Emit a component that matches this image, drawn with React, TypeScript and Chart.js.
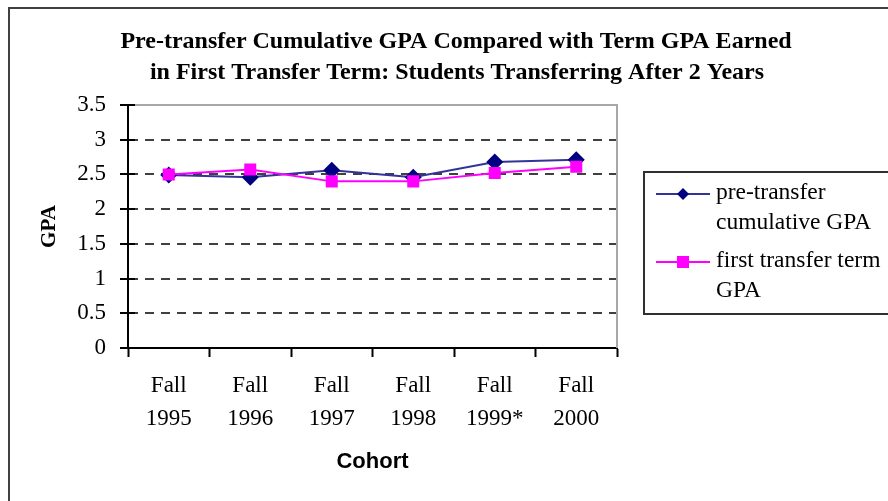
import React, { useEffect, useRef } from "react";
import { Chart, registerables } from "chart.js";

Chart.register(...registerables);

const categories: string[][] = [
  ["Fall", "1995"],
  ["Fall", "1996"],
  ["Fall", "1997"],
  ["Fall", "1998"],
  ["Fall", "1999*"],
  ["Fall", "2000"],
];
const preTransferGPA = [2.49, 2.46, 2.56, 2.46, 2.68, 2.71];
const firstTermGPA = [2.5, 2.57, 2.4, 2.4, 2.52, 2.61];
const seriesNames = ["pre-transfer cumulative GPA", "first transfer term GPA"];
const legendLines = [
  ["pre-transfer", "cumulative GPA"],
  ["first transfer term", "GPA"],
];
const titleLines = [
  "Pre-transfer Cumulative GPA Compared with Term GPA Earned",
  "in First Transfer Term: Students Transferring After 2 Years",
];
const yMin = 0;
const yMax = 3.5;
const yStep = 0.5;
const xTitle = "Cohort";
const yTitle = "GPA";

const SERIF = "'Liberation Serif', 'Times New Roman', serif";
const SANS = "'Liberation Sans', Arial, sans-serif";
const BLUE_LINE = "#333399";
const BLUE = "#000080";
const PINK = "#ff00ff";

export default function App() {
  const ref = useRef<HTMLCanvasElement>(null);
  useEffect(() => {
    const canvas = ref.current!;
    const decor = {
      id: "decor",
      beforeDraw(chart: any) {
        const ctx = chart.ctx;
        ctx.save();
        ctx.fillStyle = "#fff";
        ctx.fillRect(0, 0, chart.width, chart.height);
        ctx.strokeStyle = "#404040";
        ctx.lineWidth = 2;
        ctx.strokeRect(9, 8, 920, 540);
        ctx.restore();
      },
      beforeDatasetsDraw(chart: any) {
        const { ctx, chartArea: a } = chart;
        ctx.save();
        ctx.strokeStyle = "#a8a8a8";
        ctx.lineWidth = 2;
        ctx.beginPath();
        ctx.moveTo(a.left, a.top);
        ctx.lineTo(a.right, a.top);
        ctx.lineTo(a.right, a.bottom);
        ctx.stroke();
        // inner half of the crossing y-axis tick marks
        const ys = chart.scales.y;
        ctx.strokeStyle = "#000";
        ctx.lineWidth = 2;
        ctx.beginPath();
        ys.ticks.forEach((t: any) => {
          const py = Math.round(ys.getPixelForValue(t.value));
          ctx.moveTo(a.left, py);
          ctx.lineTo(a.left + 7, py);
        });
        ctx.stroke();
        ctx.restore();
      },
      afterDraw(chart: any) {
        const ctx = chart.ctx;
        ctx.save();
        // Title
        ctx.fillStyle = "#000";
        ctx.font = `bold 24px ${SERIF}`;
        ctx.textAlign = "center";
        ctx.textBaseline = "alphabetic";
        ctx.fillText(titleLines[0], 456, 48);
        ctx.fillText(titleLines[1], 457, 79);
        // Legend
        ctx.strokeStyle = "#303030";
        ctx.lineWidth = 2;
        ctx.strokeRect(644, 172, 300, 142);
        const ys = [194, 262];
        const colors = [BLUE_LINE, PINK];
        const mcol = [BLUE, PINK];
        ys.forEach((y, i) => {
          ctx.strokeStyle = colors[i];
          ctx.lineWidth = 2;
          ctx.beginPath();
          ctx.moveTo(656, y);
          ctx.lineTo(710, y);
          ctx.stroke();
          ctx.fillStyle = mcol[i];
          if (i === 0) {
            ctx.beginPath();
            ctx.moveTo(683, y - 6);
            ctx.lineTo(689, y);
            ctx.lineTo(683, y + 6);
            ctx.lineTo(677, y);
            ctx.closePath();
            ctx.fill();
          } else {
            ctx.fillRect(677, y - 6, 12, 12);
          }
          ctx.fillStyle = "#000";
          ctx.font = `23.5px ${SERIF}`;
          ctx.textAlign = "left";
          ctx.textBaseline = "middle";
          ctx.fillText(legendLines[i][0], 716, y - 1);
          ctx.fillText(legendLines[i][1], 716, y + 29);
        });
        ctx.restore();
      },
    };

    const chart = new Chart(canvas, {
      type: "line",
      data: {
        labels: categories,
        datasets: [
          {
            label: seriesNames[0],
            data: preTransferGPA,
            borderColor: BLUE_LINE,
            backgroundColor: BLUE,
            borderWidth: 2,
            pointStyle: "rectRot",
            pointRadius: 8.5,
            pointBackgroundColor: BLUE,
            pointBorderColor: BLUE,
            pointBorderWidth: 0,
            tension: 0,
            order: 1,
          },
          {
            label: seriesNames[1],
            data: firstTermGPA,
            borderColor: PINK,
            backgroundColor: PINK,
            borderWidth: 2,
            pointStyle: "rect",
            pointRadius: 8.5,
            pointBackgroundColor: PINK,
            pointBorderColor: PINK,
            pointBorderWidth: 0,
            tension: 0,
            order: 0,
          },
        ],
      },
      options: {
        responsive: false,
        animation: false,
        devicePixelRatio: 1,
        layout: { padding: { left: 10, right: 271, top: 105, bottom: 0 } },
        plugins: {
          legend: { display: false },
          tooltip: { enabled: false },
          title: { display: false },
        },
        scales: {
          x: {
            type: "category",
            offset: true,
            ticks: {
              color: "#000",
              font: { family: SERIF, size: 23, lineHeight: "33px" },
              padding: 12,
              maxRotation: 0,
              autoSkip: false,
            },
            grid: {
              offset: true,
              drawOnChartArea: false,
              drawTicks: true,
              tickLength: 9,
              tickColor: "#000",
              tickWidth: 2,
              color: "#000",
            },
            border: { display: true, color: "#000", width: 2 },
            title: {
              display: true,
              text: xTitle,
              color: "#000",
              font: { family: SANS, size: 22, weight: "bold" },
              padding: { top: 0, bottom: 26 },
            },
            afterFit: (s: any) => {
              s.height = 153;
            },
          } as any,
          y: {
            min: yMin,
            max: yMax,
            ticks: {
              stepSize: yStep,
              color: "#000",
              font: { family: SERIF, size: 23 },
              padding: 14,
              callback: (v: any) => String(Math.round(Number(v) * 10) / 10),
            },
            grid: {
              color: (c: any) =>
                c.tick && (c.tick.value === yMin || c.tick.value === yMax)
                  ? "rgba(0,0,0,0)"
                  : "#404040",
              lineWidth: 2,
              drawTicks: true,
              tickLength: 8,
              tickColor: "#000",
              tickWidth: 2,
            },
            border: { display: true, color: "#000", width: 2, dash: [9, 7] },
            title: {
              display: true,
              text: yTitle,
              color: "#000",
              font: { family: SERIF, size: 21, weight: "bold" },
              padding: { top: 27, bottom: 0 },
            },
            afterFit: (s: any) => {
              s.width = 118;
            },
          } as any,
        },
      },
      plugins: [decor],
    });
    return () => chart.destroy();
  }, []);

  return (
    <div style={{ position: "fixed", left: 0, top: 0, width: 888, height: 501 }}>
      <canvas ref={ref} width={888} height={501} style={{ width: 888, height: 501, display: "block" }} />
    </div>
  );
}
